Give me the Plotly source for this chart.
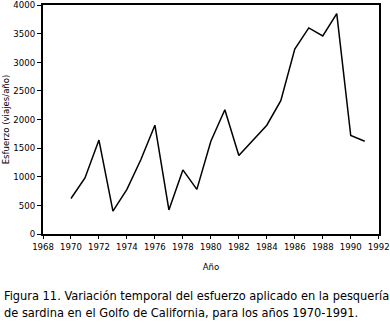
import plotly.graph_objects as go

years = [1970, 1971, 1972, 1973, 1974, 1975, 1976, 1977, 1978, 1979, 1980,
         1981, 1982, 1983, 1984, 1985, 1986, 1987, 1988, 1989, 1990, 1991]
effort = [620, 980, 1640, 400, 780, 1300, 1900, 420, 1120, 780, 1620,
          2170, 1370, 1640, 1900, 2330, 3230, 3600, 3460, 3850, 1720, 1620]
x_ticks = list(range(1968, 1993, 2))
y_ticks = list(range(0, 4001, 500))

tick_font = dict(family="DejaVu Sans Condensed", size=9.5, color="black")

fig = go.Figure()
fig.add_trace(go.Scatter(x=years, y=effort, mode="lines",
                         line=dict(color="black", width=1.5), showlegend=False))

fig.update_layout(
    width=390, height=323,
    margin=dict(l=43, r=11, t=5, b=89, autoexpand=False),
    paper_bgcolor="white", plot_bgcolor="white",
    xaxis=dict(range=[1968, 1992.02], tickvals=x_ticks, showgrid=False, zeroline=False,
               showline=True, linecolor="black", linewidth=2, mirror=True,
               ticks="outside", ticklen=3, tickcolor="black", tickfont=tick_font,
               automargin=False, ticklabeloverflow="allow",
               title=dict(text="Año", font=tick_font, standoff=12)),
    yaxis=dict(range=[0, 4000], tickvals=y_ticks, showgrid=False, zeroline=False,
               showline=True, linecolor="black", linewidth=2, mirror=True,
               ticks="outside", ticklen=4, tickcolor="black", tickfont=tick_font,
               automargin=False, ticklabeloverflow="allow",
               title=dict(text="Esfuerzo (viajes/año)", font=tick_font, standoff=4)),
)

fig.add_annotation(text="Figura 11. Variación temporal del esfuerzo aplicado en la pesquería<br>de sardina en el Golfo de California, para los años 1970-1991.",
                   xref="paper", yref="paper", x=-41/336, y=-52/229, xanchor="left", yanchor="top",
                   align="left", showarrow=False,
                   font=dict(family="DejaVu Sans Condensed", size=12.7, color="black"))

fig.write_html("out.html", config={"displayModeBar": False},
               post_script="document.body.style.margin='0px';")
